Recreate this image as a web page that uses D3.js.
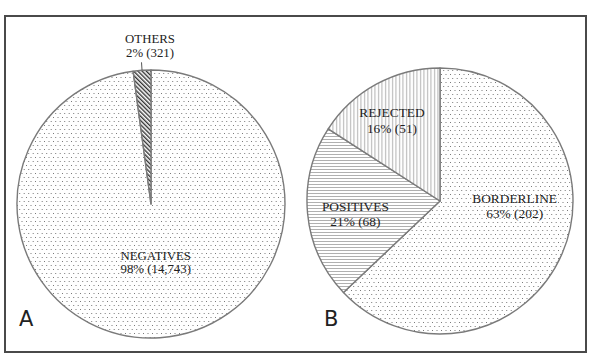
<!DOCTYPE html>
<html>
<head>
<meta charset="utf-8">
<script src="https://cdn.jsdelivr.net/npm/d3@7"></script>
<style>
  html, body { margin: 0; padding: 0; background: #fff; }
  svg { display: block; }
</style>
</head>
<body>
<svg id="chart" width="608" height="355"></svg>
<script>
// ---- data ----
const pieALabels = ["NEGATIVES", "OTHERS"];
const pieACounts = [14743, 321];
const pieAPercents = ["98%", "2%"];
const pieAPatterns = ["dots", "diag"];

const pieBLabels = ["BORDERLINE", "POSITIVES", "REJECTED"];
const pieBCounts = [202, 68, 51];
const pieBPercents = ["63%", "21%", "16%"];
const pieBPatterns = ["dots", "hlines", "vlines"];

const panelLetters = ["A", "B"];

// ---- drawing ----
const svg = d3.select("#chart");
const defs = svg.append("defs");

// dotted pattern
const pDots = defs.append("pattern").attr("id", "dots").attr("patternUnits", "userSpaceOnUse")
  .attr("width", 9).attr("height", 8);
pDots.append("rect").attr("width", 9).attr("height", 8).attr("fill", "#fff");
[[1,1],[5.5,1],[3.2,5],[7.7,5]].forEach(([x,y]) =>
  pDots.append("rect").attr("x", x).attr("y", y).attr("width", 1).attr("height", 1).attr("fill", "#7a7a7a"));

// horizontal lines
const pH = defs.append("pattern").attr("id", "hlines").attr("patternUnits", "userSpaceOnUse")
  .attr("width", 6).attr("height", 3);
pH.append("rect").attr("width", 6).attr("height", 3).attr("fill", "#fff");
pH.append("rect").attr("y", 1).attr("width", 6).attr("height", 1).attr("fill", "#b0b0b0");

// vertical lines
const pV = defs.append("pattern").attr("id", "vlines").attr("patternUnits", "userSpaceOnUse")
  .attr("width", 3.5).attr("height", 6);
pV.append("rect").attr("width", 3.5).attr("height", 6).attr("fill", "#fff");
pV.append("rect").attr("x", 1).attr("width", 1).attr("height", 6).attr("fill", "#b0b0b0");

// diagonal hatch
const pD = defs.append("pattern").attr("id", "diag").attr("patternUnits", "userSpaceOnUse")
  .attr("width", 3).attr("height", 3).attr("patternTransform", "rotate(-45)");
pD.append("rect").attr("width", 3).attr("height", 3).attr("fill", "#fff");
pD.append("rect").attr("width", 1.4).attr("height", 3).attr("fill", "#333");

// frame
svg.append("rect").attr("x", 5).attr("y", 16).attr("width", 581).attr("height", 336)
  .attr("fill", "#fff").attr("stroke", "#4a4a4a").attr("stroke-width", 2);

const pie = d3.pie().sort(null).value(d => d.count);

function drawPie(cx, cy, r, labels, counts, percents, patterns, fontSize, labelPos) {
  const data = labels.map((l, i) => ({ label: l, count: counts[i], pct: percents[i], pat: patterns[i] }));
  const arcs = pie(data);
  const arc = d3.arc().innerRadius(0).outerRadius(r);
  const g = svg.append("g").attr("transform", `translate(${cx},${cy})`);
  g.selectAll("path.slice").data(arcs).enter().append("path")
    .attr("class", "slice")
    .attr("d", arc)
    .attr("fill", d => `url(#${d.data.pat})`)
    .attr("stroke", "#7a7a7a")
    .attr("stroke-width", 1.4)
    .attr("stroke-linejoin", "round");

  arcs.forEach((a, i) => {
    const pos = labelPos(a, i);
    const t = g.append("text")
      .attr("x", pos[0]).attr("y", pos[1])
      .attr("text-anchor", "middle")
      .attr("font-family", "'Liberation Serif', 'Times New Roman', serif")
      .attr("font-size", fontSize)
      .attr("fill", "#222");
    t.append("tspan").attr("x", pos[0]).attr("dy", 0).text(a.data.label);
    t.append("tspan").attr("x", pos[0]).attr("dy", pos[2]).text(`${a.data.pct} (${d3.format(",")(a.data.count)})`);
  });
  return { g, arcs, arc };
}

// Pie A
const A = drawPie(151, 204, 134, pieALabels, pieACounts, pieAPercents, pieAPatterns, 12.8, (a, i) => {
  if (i === 0) {
    const mid = (a.startAngle + a.endAngle) / 2;
    return [Math.sin(mid) * 56 + 1, -Math.cos(mid) * 56, 13];
  }
  return [-1, -161, 14];
});
// pointer for small slice
(function () {
  const a = A.arcs[1];
  const mid = (a.startAngle + a.endAngle) / 2;
  A.g.append("line")
    .attr("x1", Math.sin(mid) * 134).attr("y1", -Math.cos(mid) * 134)
    .attr("x2", Math.sin(mid) * 142).attr("y2", -Math.cos(mid) * 142)
    .attr("stroke", "#555").attr("stroke-width", 1);
})();

// Pie B
drawPie(440, 201, 133, pieBLabels, pieBCounts, pieBPercents, pieBPatterns, 13.4, (a, i) => {
  const mid = (a.startAngle + a.endAngle) / 2;
  const rr = [78, 85, 92][i];
  const adj = [[3, -35], [0, -4], [-4, -9]][i];
  return [Math.sin(mid) * rr + adj[0], -Math.cos(mid) * rr + adj[1] + 6, 15.5];
});

// panel letters
svg.selectAll("text.panel").data(panelLetters).enter().append("text")
  .attr("class", "panel")
  .attr("x", (d, i) => [19, 324][i])
  .attr("y", 326)
  .attr("font-family", "'DejaVu Sans', 'Open Sans', sans-serif")
  .attr("font-size", 21)
  .attr("fill", "#222")
  .text(d => d);
</script>
</body>
</html>
